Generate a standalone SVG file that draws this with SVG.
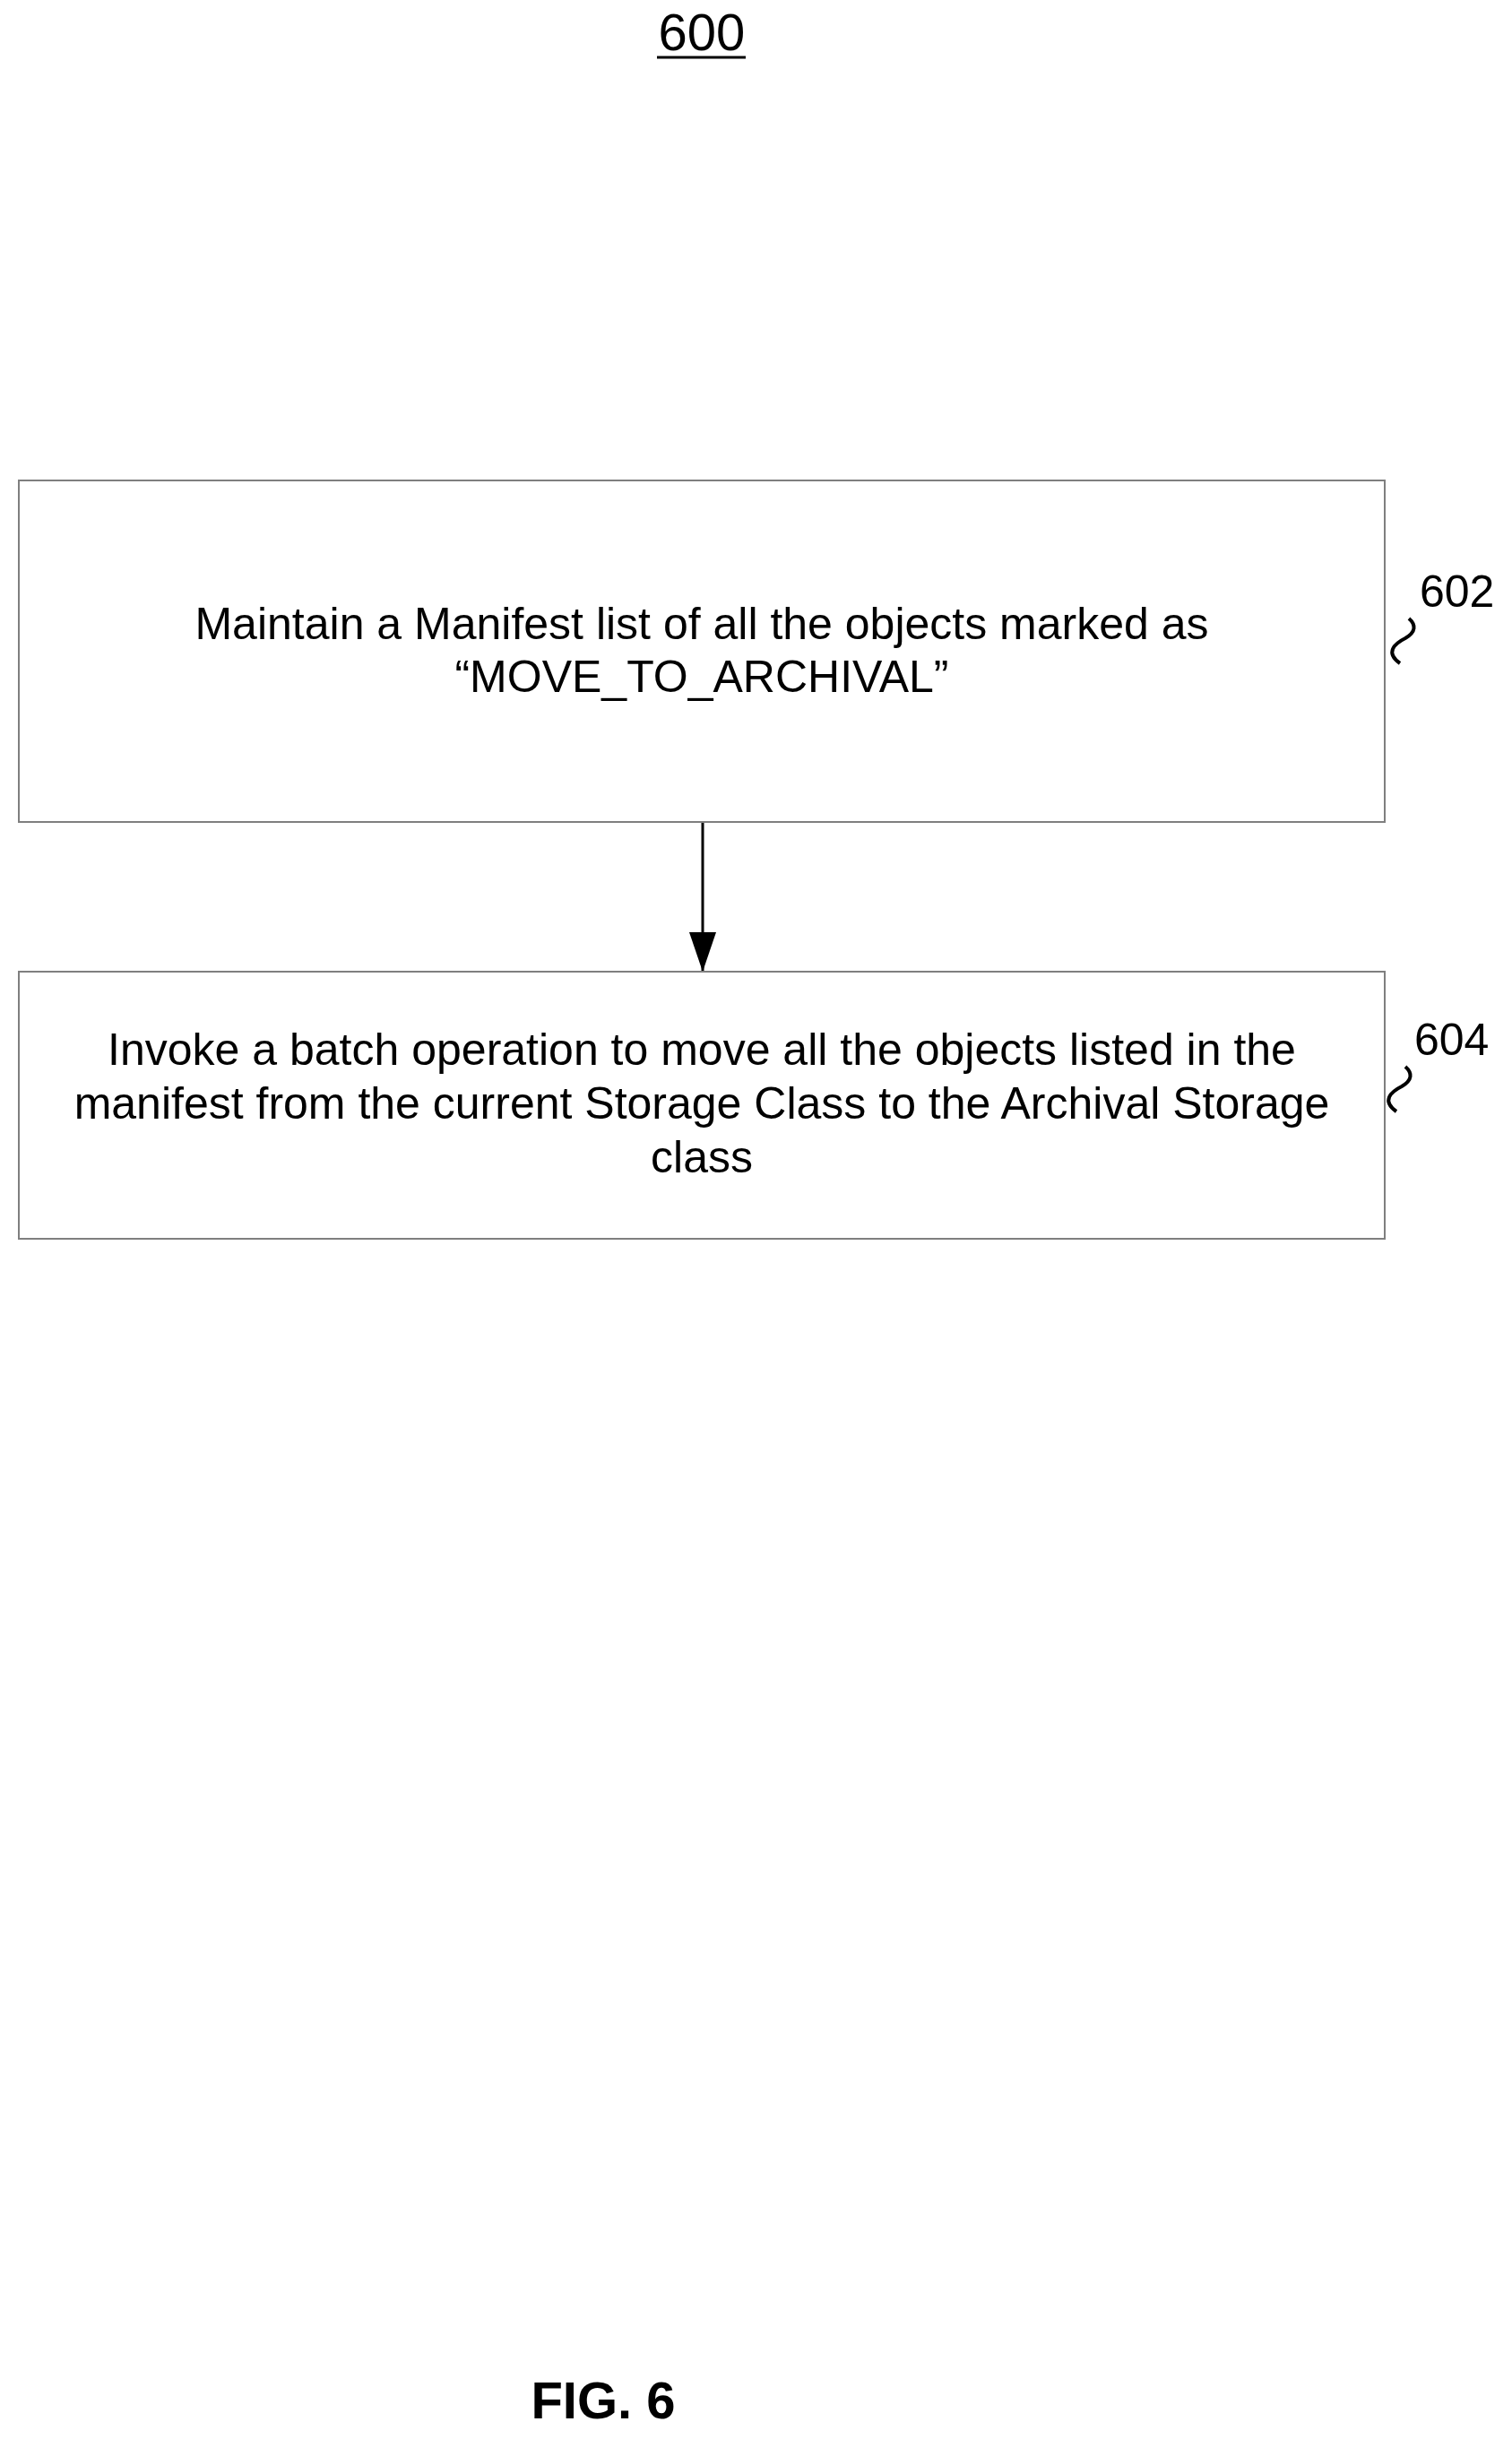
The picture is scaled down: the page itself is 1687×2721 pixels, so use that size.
<svg xmlns="http://www.w3.org/2000/svg" width="1687" height="2721" viewBox="0 0 1687 2721">
<defs>
<style>
text{font-family:"Liberation Sans",Arial,sans-serif;fill:#000}
.box{fill:#fff;stroke:#7f7f7f;stroke-width:2}
.t{font-size:50px;text-anchor:middle}
.ref{font-size:50px}
.sq{fill:none;stroke:#000;stroke-width:4}
</style>
<marker id="ah2" markerWidth="44" markerHeight="30" refX="44" refY="15" orient="auto" viewBox="0 0 44 30" markerUnits="userSpaceOnUse">
<path d="M0,0 L44,15 L0,30 z" fill="#000"/>
</marker>
</defs>
<rect width="1687" height="2721" fill="#fff"/>
<g id="title">
<text x="783" y="56" class="t" style="font-size:58px">600</text>
<line x1="733" y1="64" x2="832" y2="64" stroke="#000" stroke-width="3"/>
</g>
<g id="connectors">
<line x1="784" y1="918" x2="784" y2="1084" stroke="#000" stroke-width="3" marker-end="url(#ah2)"/>
</g>
<g id="n602">
<rect class="box" x="21" y="536" width="1524" height="381"/>
<text class="t" x="783" y="713">Maintain a Manifest list of all the objects marked as</text>
<text class="t" x="783" y="772">“MOVE_TO_ARCHIVAL”</text>
<path class="sq" d="M1562,740 C1545,728 1556,718 1568,712 C1580,705 1580,697 1572,690"/>
<text class="ref" x="1584" y="677">602</text>
</g>
<g id="n604">
<rect class="box" x="21" y="1084" width="1524" height="298"/>
<text class="t" x="783" y="1188">Invoke a batch operation to move all the objects listed in the</text>
<text class="t" x="783" y="1248">manifest from the current Storage Class to the Archival Storage</text>
<text class="t" x="783" y="1308">class</text>
<path class="sq" d="M1558,1240 C1541,1228 1552,1218 1564,1212 C1576,1205 1576,1197 1568,1190"/>
<text class="ref" x="1578" y="1177">604</text>
</g>
<g id="fig">
<text x="673" y="2698" style="font-size:58px;font-weight:bold;text-anchor:middle">FIG. 6</text>
</g>
</svg>
